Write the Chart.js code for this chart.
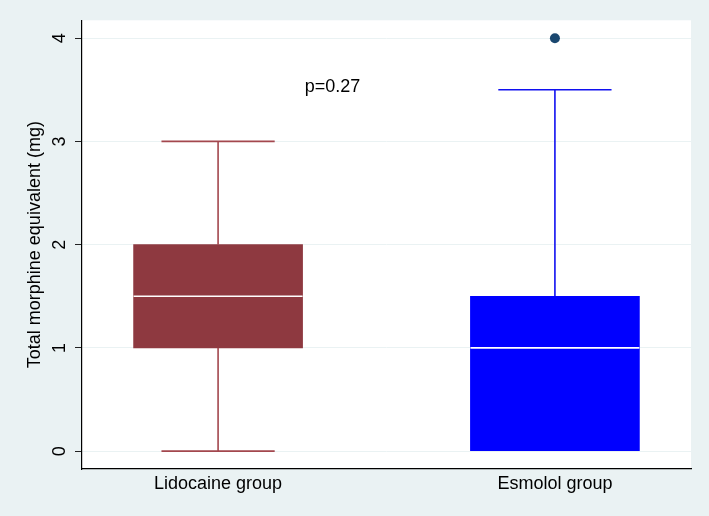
<!DOCTYPE html>
<html>
<head>
<meta charset="utf-8">
<script src="https://cdn.jsdelivr.net/npm/chart.js@4"></script>
<style>
  html, body { margin: 0; padding: 0; background: #EAF2F3; }
  #wrap { width: 709px; height: 516px; }
</style>
</head>
<body>
<div id="wrap"><canvas id="chart" width="709" height="516"></canvas></div>
<script>
// Box plot data
const groups = ['Lidocaine group', 'Esmolol group'];
const positions = [1, 2];
const whiskerLow = [0, 0];
const q1 = [1, 0];
const median = [1.5, 1];
const q3 = [2, 1.5];
const whiskerHigh = [3, 3.5];
const outliers = [[], [4]];
const yTicks = [0, 1, 2, 3, 4];
const pLabel = 'p=0.27';

const boxColors = ['#8E3940', '#0000FF'];
const whiskerColors = ['#A3474E', '#1010F0'];

Chart.defaults.font.family = '"Liberation Sans", Arial, Helvetica, sans-serif';
Chart.defaults.color = '#000';

// Background, whiskers, medians and the p-value note
const boxExtras = {
  id: 'boxExtras',
  beforeDraw(chart) {
    const { ctx, chartArea } = chart;
    ctx.save();
    ctx.fillStyle = '#EAF2F3';
    ctx.fillRect(0, 0, chart.width, chart.height);
    ctx.fillStyle = '#FFFFFF';
    ctx.fillRect(chartArea.left, chartArea.top, chartArea.right - chartArea.left, chartArea.bottom - chartArea.top);
    ctx.restore();
  },
  afterDatasetsDraw(chart) {
    const { ctx, scales: { x, y } } = chart;
    const meta = chart.getDatasetMeta(0);
    ctx.save();
    groups.forEach((g, i) => {
      const cx = x.getPixelForValue(positions[i]);
      const half = meta.data[i].width / 2;
      const capHalf = half * 0.67;

      // whiskers + caps
      ctx.strokeStyle = whiskerColors[i];
      ctx.lineWidth = 1.6;
      ctx.beginPath();
      ctx.moveTo(cx, y.getPixelForValue(q3[i]));
      ctx.lineTo(cx, y.getPixelForValue(whiskerHigh[i]));
      ctx.moveTo(cx - capHalf, y.getPixelForValue(whiskerHigh[i]));
      ctx.lineTo(cx + capHalf, y.getPixelForValue(whiskerHigh[i]));
      if (whiskerLow[i] < q1[i]) {
        ctx.moveTo(cx, y.getPixelForValue(q1[i]));
        ctx.lineTo(cx, y.getPixelForValue(whiskerLow[i]));
        ctx.moveTo(cx - capHalf, y.getPixelForValue(whiskerLow[i]));
        ctx.lineTo(cx + capHalf, y.getPixelForValue(whiskerLow[i]));
      }
      ctx.stroke();

      // median
      ctx.strokeStyle = '#FFFFFF';
      ctx.lineWidth = 1.6;
      ctx.beginPath();
      ctx.moveTo(cx - half, y.getPixelForValue(median[i]));
      ctx.lineTo(cx + half, y.getPixelForValue(median[i]));
      ctx.stroke();
    });

    // p-value note
    ctx.fillStyle = '#000';
    ctx.font = '18px "Liberation Sans", Arial, sans-serif';
    ctx.textAlign = 'center';
    ctx.textBaseline = 'middle';
    ctx.fillText(pLabel, x.getPixelForValue(1.34), y.getPixelForValue(3.53));
    ctx.restore();
  }
};

const outlierPoints = [];
outliers.forEach((list, i) => list.forEach(v => outlierPoints.push({ x: positions[i], y: v })));

new Chart(document.getElementById('chart'), {
  data: {
    datasets: [
      {
        type: 'bar',
        data: groups.map((g, i) => ({ x: positions[i], y: [q1[i], q3[i]] })),
        backgroundColor: boxColors,
        borderWidth: 0,
        barThickness: 169,
        grouped: false
      },
      {
        type: 'scatter',
        data: outlierPoints,
        pointRadius: 5,
        pointBackgroundColor: '#1A476F',
        pointBorderWidth: 0
      }
    ]
  },
  options: {
    responsive: false,
    animation: false,
    layout: { padding: { top: 15, right: 18, left: 0, bottom: 0 } },
    plugins: {
      legend: { display: false },
      tooltip: { enabled: false }
    },
    scales: {
      x: {
        type: 'linear',
        offset: false,
        min: 0.596,
        max: 2.404,
        afterBuildTicks: scale => { scale.ticks = positions.map(v => ({ value: v })); },
        afterFit: scale => { scale.height = 47; },
        ticks: {
          callback: v => groups[positions.indexOf(v)],
          font: { size: 18 },
          padding: 4.5,
          maxRotation: 0
        },
        grid: { display: false, drawTicks: false, offset: false },
        border: { display: true, color: '#000', width: 1.2 }
      },
      y: {
        type: 'linear',
        min: -0.173,
        max: 4.173,
        afterBuildTicks: scale => { scale.ticks = yTicks.map(v => ({ value: v })); },
        afterFit: scale => { scale.width = 82; },
        ticks: {
          minRotation: 90,
          maxRotation: 90,
          crossAlign: 'center',
          padding: 9.5,
          font: { size: 18 }
        },
        grid: { color: '#EAF2F3', lineWidth: 1, tickColor: '#222', tickLength: 7 },
        border: { display: true, color: '#000', width: 1.2 },
        title: {
          display: true,
          text: 'Total morphine equivalent (mg)',
          font: { size: 18 },
          padding: { top: 24, bottom: 0 }
        }
      }
    }
  },
  plugins: [boxExtras]
});
</script>
</body>
</html>
